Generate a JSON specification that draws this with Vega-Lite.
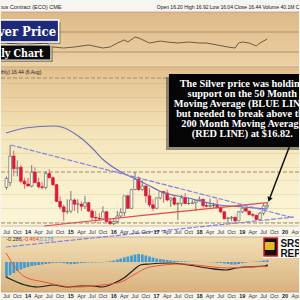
{
"$schema":"https://vega.github.io/schema/vega-lite/v6.json",
"width":300,"height":300,
"autosize":{"type":"fit","contains":"padding"},
"padding":0,
"background":"#f7f5f0",
"config":{"view":{"stroke":null,"fill":{"gradient":"linear","x1":0,"y1":0,"x2":0,"y2":1,"stops":[
{"offset":0,"color":"#f7f5f0"},{"offset":0.04,"color":"#f7f5f0"},
{"offset":0.04,"color":"#deb988"},{"offset":0.2233,"color":"#ecd2a4"},
{"offset":0.2233,"color":"#e3c08d"},{"offset":0.45,"color":"#f4e5ba"},{"offset":0.6,"color":"#f9efcb"},{"offset":0.7533,"color":"#fbf5d8"},
{"offset":0.7533,"color":"#f9f6ec"},{"offset":0.79,"color":"#f9f6ec"},
{"offset":0.79,"color":"#f2dfb4"},{"offset":0.9733,"color":"#d9b27f"},
{"offset":0.9733,"color":"#f7f4ee"},{"offset":1,"color":"#f7f4ee"}]}}},
"datasets":{
"candles":[
{"date":"2013-07-01","open":19.0,"high":20.6,"low":18.7,"close":20.3},
{"date":"2013-08-01","open":19.7,"high":25.1,"low":19.2,"close":23.5},
{"date":"2013-09-01","open":23.5,"high":24.3,"low":20.6,"close":21.7},
{"date":"2013-10-01","open":21.7,"high":22.9,"low":20.6,"close":21.9},
{"date":"2013-11-01","open":21.9,"high":22.2,"low":19.6,"close":19.9},
{"date":"2013-12-01","open":19.9,"high":20.4,"low":18.8,"close":19.5},
{"date":"2014-01-01","open":19.5,"high":20.4,"low":19.2,"close":19.2},
{"date":"2014-02-01","open":19.2,"high":22.2,"low":19.0,"close":21.2},
{"date":"2014-03-01","open":21.2,"high":21.9,"low":19.6,"close":19.7},
{"date":"2014-04-01","open":19.7,"high":20.4,"low":18.9,"close":19.1},
{"date":"2014-05-01","open":19.1,"high":19.8,"low":18.7,"close":19.0},
{"date":"2014-06-01","open":19.0,"high":21.3,"low":18.7,"close":21.0},
{"date":"2014-07-01","open":21.0,"high":21.6,"low":20.3,"close":20.4},
{"date":"2014-08-01","open":20.4,"high":20.6,"low":19.2,"close":19.4},
{"date":"2014-09-01","open":19.4,"high":19.5,"low":16.9,"close":17.0},
{"date":"2014-10-01","open":17.0,"high":17.7,"low":15.8,"close":16.2},
{"date":"2014-11-01","open":16.2,"high":16.5,"low":14.2,"close":15.5},
{"date":"2014-12-01","open":15.5,"high":17.3,"low":15.2,"close":15.6},
{"date":"2015-01-01","open":15.6,"high":18.5,"low":15.3,"close":17.2},
{"date":"2015-02-01","open":17.2,"high":17.4,"low":15.6,"close":16.6},
{"date":"2015-03-01","open":16.6,"high":17.3,"low":15.3,"close":16.65},
{"date":"2015-04-01","open":16.6,"high":17.0,"low":15.6,"close":16.3},
{"date":"2015-05-01","open":16.3,"high":17.8,"low":15.9,"close":16.8},
{"date":"2015-06-01","open":16.8,"high":16.9,"low":15.5,"close":15.6},
{"date":"2015-07-01","open":15.6,"high":15.9,"low":14.3,"close":14.7},
{"date":"2015-08-01","open":14.7,"high":15.6,"low":13.9,"close":14.6},
{"date":"2015-09-01","open":14.6,"high":15.3,"low":14.2,"close":14.5},
{"date":"2015-10-01","open":14.5,"high":16.3,"low":14.5,"close":15.5},
{"date":"2015-11-01","open":15.5,"high":15.6,"low":14.0,"close":14.1},
{"date":"2015-12-01","open":14.1,"high":14.5,"low":13.6,"close":13.8},
{"date":"2016-01-01","open":13.8,"high":14.5,"low":13.6,"close":14.1},
{"date":"2016-02-01","open":14.1,"high":15.6,"low":13.9,"close":14.9},
{"date":"2016-03-01","open":14.9,"high":16.0,"low":14.7,"close":15.4},
{"date":"2016-04-01","open":15.4,"high":17.8,"low":14.9,"close":17.8},
{"date":"2016-05-01","open":17.8,"high":17.9,"low":15.9,"close":16.0},
{"date":"2016-06-01","open":16.0,"high":18.8,"low":15.9,"close":18.7},
{"date":"2016-07-01","open":18.7,"high":21.2,"low":18.6,"close":20.2},
{"date":"2016-08-01","open":20.2,"high":20.6,"low":18.5,"close":18.7},
{"date":"2016-09-01","open":18.7,"high":20.0,"low":18.5,"close":19.2},
{"date":"2016-10-01","open":19.2,"high":19.3,"low":16.8,"close":17.8},
{"date":"2016-11-01","open":17.8,"high":18.9,"low":16.2,"close":16.5},
{"date":"2016-12-01","open":16.5,"high":17.3,"low":15.6,"close":16.0},
{"date":"2017-01-01","open":16.0,"high":17.5,"low":15.9,"close":17.5},
{"date":"2017-02-01","open":17.5,"high":18.5,"low":17.3,"close":18.4},
{"date":"2017-03-01","open":18.4,"high":18.5,"low":16.8,"close":18.2},
{"date":"2017-04-01","open":18.2,"high":18.7,"low":17.0,"close":17.2},
{"date":"2017-05-01","open":17.2,"high":17.6,"low":16.2,"close":17.5},
{"date":"2017-06-01","open":17.5,"high":17.8,"low":16.4,"close":16.6},
{"date":"2017-07-01","open":16.6,"high":16.9,"low":14.3,"close":16.7},
{"date":"2017-08-01","open":16.7,"high":17.9,"low":16.3,"close":17.5},
{"date":"2017-09-01","open":17.5,"high":18.2,"low":16.6,"close":16.7},
{"date":"2017-10-01","open":16.7,"high":17.5,"low":16.5,"close":16.7},
{"date":"2017-11-01","open":16.7,"high":17.3,"low":16.6,"close":16.8},
{"date":"2017-12-01","open":16.8,"high":17.2,"low":15.6,"close":17.1},
{"date":"2018-01-01","open":17.1,"high":17.7,"low":17.0,"close":17.3},
{"date":"2018-02-01","open":17.3,"high":17.3,"low":16.1,"close":16.4},
{"date":"2018-03-01","open":16.4,"high":16.9,"low":16.1,"close":16.3},
{"date":"2018-04-01","open":16.3,"high":17.4,"low":16.1,"close":16.4},
{"date":"2018-05-01","open":16.4,"high":16.8,"low":16.1,"close":16.4},
{"date":"2018-06-01","open":16.4,"high":17.3,"low":16.0,"close":16.1},
{"date":"2018-07-01","open":16.1,"high":16.3,"low":15.3,"close":15.5},
{"date":"2018-08-01","open":15.5,"high":15.6,"low":14.4,"close":14.5},
{"date":"2018-09-01","open":14.5,"high":14.8,"low":13.9,"close":14.6},
{"date":"2018-10-01","open":14.6,"high":14.9,"low":14.2,"close":14.7},
{"date":"2018-11-01","open":14.7,"high":14.8,"low":13.9,"close":14.2},
{"date":"2018-12-01","open":14.2,"high":15.6,"low":14.2,"close":15.5},
{"date":"2019-01-01","open":15.5,"high":16.2,"low":15.3,"close":16.0},
{"date":"2019-02-01","open":16.0,"high":16.2,"low":15.6,"close":15.6},
{"date":"2019-03-01","open":15.6,"high":15.6,"low":15.0,"close":15.1},
{"date":"2019-04-01","open":15.1,"high":15.3,"low":14.7,"close":15.0},
{"date":"2019-05-01","open":15.0,"high":15.0,"low":14.3,"close":14.4},
{"date":"2019-06-01","open":14.4,"high":15.5,"low":14.4,"close":15.3},
{"date":"2019-07-01","open":15.3,"high":16.7,"low":15.0,"close":16.35},
{"date":"2019-08-01","open":16.2,"high":16.92,"low":16.04,"close":16.44}],
"ma50":[
{"date":"2013-06-27","price":26.82},{"date":"2013-12-07","price":27.54},{"date":"2014-08-08","price":27.83},
{"date":"2014-10-13","price":27.69},{"date":"2015-03-16","price":26.25},{"date":"2015-07-01","price":24.67},
{"date":"2015-10-07","price":22.94},{"date":"2016-03-03","price":21.22},{"date":"2016-06-18","price":20.36},
{"date":"2016-11-04","price":19.21},{"date":"2017-01-25","price":18.5},{"date":"2017-09-28","price":17.48},
{"date":"2018-06-24","price":16.48},{"date":"2019-01-07","price":16.19},{"date":"2019-08-07","price":15.9}],
"ma200":[{"date":"2014-05-18","price":13.46},{"date":"2016-11-05","price":15.1},{"date":"2019-08-07","price":16.82}],
"trendUpper":[{"date":"2013-08-06","price":25.1},{"date":"2020-03-17","price":14.61}],
"trendLower":[{"date":"2013-06-27","price":10.44},{"date":"2020-03-17","price":14.75}],
"levels":[{"price":34.73},{"price":21.22},{"price":13.89}],
"rsi":[
{"date":"2013-07-01","value":48},{"date":"2013-12-01","value":44},{"date":"2014-06-01","value":48},
{"date":"2014-08-01","value":40},{"date":"2014-11-01","value":38},{"date":"2015-02-01","value":40},
{"date":"2015-06-01","value":44},{"date":"2015-10-01","value":38},{"date":"2015-12-01","value":40},
{"date":"2016-02-01","value":48},{"date":"2016-04-01","value":54},{"date":"2016-05-01","value":50},
{"date":"2016-07-01","value":60},{"date":"2016-08-01","value":58},{"date":"2016-11-01","value":48},
{"date":"2017-02-01","value":52},{"date":"2017-04-01","value":50},{"date":"2017-07-01","value":48},
{"date":"2017-10-01","value":50},{"date":"2018-01-01","value":48},{"date":"2018-03-01","value":48},
{"date":"2018-06-01","value":44},{"date":"2018-09-01","value":40},{"date":"2018-11-01","value":38},
{"date":"2018-12-01","value":48},{"date":"2019-01-01","value":50},{"date":"2019-03-01","value":48},
{"date":"2019-05-01","value":42},{"date":"2019-06-01","value":48},{"date":"2019-08-01","value":56}],
"hist":[
{"date":"2013-07-01","hist":-1.5},{"date":"2013-08-01","hist":-1.3},{"date":"2013-09-01","hist":-1.1},{"date":"2013-10-01","hist":-0.9},
{"date":"2013-11-01","hist":-0.75},{"date":"2013-12-01","hist":-0.6},{"date":"2014-01-01","hist":-0.5},{"date":"2014-02-01","hist":-0.4},
{"date":"2014-03-01","hist":-0.35},{"date":"2014-04-01","hist":-0.3},{"date":"2014-05-01","hist":-0.25},{"date":"2014-06-01","hist":-0.2},
{"date":"2014-07-01","hist":-0.15},{"date":"2014-08-01","hist":-0.1},{"date":"2014-09-01","hist":-0.07},{"date":"2014-10-01","hist":-0.08},
{"date":"2014-11-01","hist":-0.12},{"date":"2014-12-01","hist":-0.18},{"date":"2015-01-01","hist":-0.22},{"date":"2015-02-01","hist":-0.2},
{"date":"2015-03-01","hist":-0.15},{"date":"2015-04-01","hist":-0.1},{"date":"2015-05-01","hist":-0.08},{"date":"2015-06-01","hist":-0.05},
{"date":"2015-07-01","hist":-0.05},{"date":"2015-08-01","hist":-0.04},{"date":"2015-09-01","hist":-0.03},{"date":"2015-10-01","hist":-0.03},
{"date":"2015-11-01","hist":0.03},{"date":"2015-12-01","hist":0.08},{"date":"2016-01-01","hist":0.15},{"date":"2016-02-01","hist":0.25},
{"date":"2016-03-01","hist":0.35},{"date":"2016-04-01","hist":0.45},{"date":"2016-05-01","hist":0.55},{"date":"2016-06-01","hist":0.65},
{"date":"2016-07-01","hist":0.75},{"date":"2016-08-01","hist":0.8},{"date":"2016-09-01","hist":0.75},{"date":"2016-10-01","hist":0.65},
{"date":"2016-11-01","hist":0.55},{"date":"2016-12-01","hist":0.45},{"date":"2017-01-01","hist":0.35},{"date":"2017-02-01","hist":0.3},
{"date":"2017-03-01","hist":0.25},{"date":"2017-04-01","hist":0.2},{"date":"2017-05-01","hist":0.15},{"date":"2017-06-01","hist":0.12},
{"date":"2017-07-01","hist":0.1},{"date":"2017-08-01","hist":0.08},{"date":"2017-09-01","hist":0.06},{"date":"2017-10-01","hist":0.04},
{"date":"2017-11-01","hist":0.03},{"date":"2017-12-01","hist":0.02},{"date":"2018-01-01","hist":0.02},{"date":"2018-02-01","hist":0.01},
{"date":"2018-03-01","hist":0},{"date":"2018-04-01","hist":-0.02},{"date":"2018-05-01","hist":-0.04},{"date":"2018-06-01","hist":-0.07},
{"date":"2018-07-01","hist":-0.1},{"date":"2018-08-01","hist":-0.15},{"date":"2018-09-01","hist":-0.2},{"date":"2018-10-01","hist":-0.25},
{"date":"2018-11-01","hist":-0.25},{"date":"2018-12-01","hist":-0.2},{"date":"2019-01-01","hist":-0.12},{"date":"2019-02-01","hist":-0.06},
{"date":"2019-03-01","hist":0},{"date":"2019-04-01","hist":0.03},{"date":"2019-05-01","hist":0.04},{"date":"2019-06-01","hist":0.08},
{"date":"2019-07-01","hist":0.15},{"date":"2019-08-01","hist":0.18}],
"macd":[
{"date":"2013-06-27","value":-1.5},{"date":"2013-12-07","value":-2.3},{"date":"2014-03-22","value":-2.5},{"date":"2014-08-09","value":-2.3},
{"date":"2014-11-24","value":-2.5},{"date":"2015-03-17","value":-2.4},{"date":"2015-07-01","value":-2.4},{"date":"2015-09-22","value":-2.5},
{"date":"2016-01-07","value":-2.1},{"date":"2016-03-28","value":-1.6},{"date":"2016-06-18","value":-0.8},{"date":"2016-08-15","value":-0.3},
{"date":"2016-11-05","value":-0.2},{"date":"2017-04-16","value":-0.1},{"date":"2017-09-28","value":-0.3},{"date":"2018-03-09","value":-0.6},
{"date":"2018-08-20","value":-0.8},{"date":"2018-11-10","value":-0.6},{"date":"2019-02-01","value":-0.5},{"date":"2019-07-13","value":-0.4},
{"date":"2019-08-07","value":-0.29}],
"signal":[
{"date":"2013-06-27","value":0.9},{"date":"2013-12-07","value":-1.5},{"date":"2014-05-18","value":-2.0},{"date":"2014-10-30","value":-2.4},
{"date":"2015-02-14","value":-2.5},{"date":"2015-09-22","value":-2.3},{"date":"2016-03-03","value":-2.0},{"date":"2016-06-18","value":-1.3},
{"date":"2016-11-05","value":-0.5},{"date":"2017-08-01","value":-0.2},{"date":"2018-05-05","value":-0.5},{"date":"2018-08-20","value":-0.6},
{"date":"2019-02-01","value":-0.5},{"date":"2019-08-07","value":-0.46}],
"xlabels":[
{"date":"2013-07-01","label":"Jul"},{"date":"2013-10-01","label":"Oct"},{"date":"2014-01-01","label":"14"},{"date":"2014-04-01","label":"Apr"},
{"date":"2014-07-01","label":"Jul"},{"date":"2014-10-01","label":"Oct"},{"date":"2015-01-01","label":"15"},{"date":"2015-04-01","label":"Apr"},
{"date":"2015-07-01","label":"Jul"},{"date":"2015-10-01","label":"Oct"},{"date":"2016-01-01","label":"16"},{"date":"2016-04-01","label":"Apr"},
{"date":"2016-07-01","label":"Jul"},{"date":"2016-10-01","label":"Oct"},{"date":"2017-01-01","label":"17"},{"date":"2017-04-01","label":"Apr"},
{"date":"2017-07-01","label":"Jul"},{"date":"2017-10-01","label":"Oct"},{"date":"2018-01-01","label":"18"},{"date":"2018-04-01","label":"Apr"},
{"date":"2018-07-01","label":"Jul"},{"date":"2018-10-01","label":"Oct"},{"date":"2019-01-01","label":"19"},{"date":"2019-04-01","label":"Apr"},
{"date":"2019-07-01","label":"Jul"},{"date":"2019-10-01","label":"Oct"},{"date":"2020-01-01","label":"20"},{"date":"2020-04-01","label":"Apr"}]
},
"resolve":{"scale":{"y":"independent"}},
"layer":[
{"data":{"values":[{"level":70},{"level":30}]},"mark":{"type":"rule","color":"#9e8566","strokeWidth":0.8},
 "encoding":{"y":{"field":"level","type":"quantitative","scale":{"domain":[0,110],"range":[67,12],"nice":false,"zero":false},"axis":null}}},
{"data":{"values":[{"level":110},{"level":0}]},"mark":{"type":"rule","color":"#b39a76","strokeWidth":0.7},
 "encoding":{"y":{"field":"level","type":"quantitative","scale":{"domain":[0,110],"range":[67,12],"nice":false,"zero":false},"axis":null}}},
{"data":{"values":[{"level":13.46}]},"mark":{"type":"rule","color":"#c2ab88","strokeWidth":0.7},
 "encoding":{"y":{"field":"level","type":"quantitative","scale":{"domain":[13.46,36.31],"range":[226,67],"nice":false,"zero":false},"axis":null}}},
{"data":{"values":[{"level":2.5},{"level":-3}]},"mark":{"type":"rule","color":"#b39a76","strokeWidth":0.7},
 "encoding":{"y":{"field":"level","type":"quantitative","scale":{"domain":[-3,2.5],"range":[292,237],"nice":false,"zero":false},"axis":null}}},
{"data":{"name":"levels"},"mark":{"type":"rule","color":"#9a8b72","strokeWidth":1.1,"strokeDash":[4,2]},
 "encoding":{"y":{"field":"price","type":"quantitative","scale":{"domain":[13.46,36.31],"range":[226,67],"nice":false,"zero":false},"axis":null}}},
{"data":{"name":"candles"},"mark":{"type":"rule","strokeWidth":0.8,"clip":true},
 "encoding":{
  "x":{"field":"date","type":"temporal","scale":{"type":"utc","domain":[{"year":2013,"month":6,"date":27,"utc":true},{"year":2020,"month":3,"date":17,"utc":true}]},
       "axis":{"grid":true,"labels":false,"ticks":false,"domain":false,"title":null,"tickCount":{"interval":"month","step":3},"gridColor":"#a98350","gridOpacity":0.25,"gridWidth":0.6}},
  "y":{"field":"low","type":"quantitative","scale":{"domain":[13.46,36.31],"range":[226,67],"nice":false,"zero":false},
       "axis":{"grid":true,"labels":false,"ticks":false,"domain":false,"title":null,"values":[14,16,18,20,22,24,26,28,30,32,34,36],"gridColor":"#a98350","gridOpacity":0.25,"gridWidth":0.6}},
  "y2":{"field":"high"},
  "color":{"condition":{"test":"datum.close >= datum.open","value":"#5a5a5a"},"value":"#e8405a"}}},
{"data":{"name":"candles"},"mark":{"type":"bar","width":2.7,"strokeWidth":0.6,"clip":true},
 "encoding":{
  "x":{"field":"date","type":"temporal","scale":{"type":"utc","domain":[{"year":2013,"month":6,"date":27,"utc":true},{"year":2020,"month":3,"date":17,"utc":true}]},"axis":null},
  "y":{"field":"open","type":"quantitative","scale":{"domain":[13.46,36.31],"range":[226,67],"nice":false,"zero":false},"axis":null},
  "y2":{"field":"close"},
  "fill":{"condition":{"test":"datum.close >= datum.open","value":"#fbf7e6"},"value":"#e3173a"},
  "stroke":{"condition":{"test":"datum.close >= datum.open","value":"#555555"},"value":"#c8102e"}}},
{"data":{"name":"ma50"},"mark":{"type":"line","color":"#6f6fc2","strokeWidth":1.2,"interpolate":"monotone","clip":true},
 "encoding":{
  "x":{"field":"date","type":"temporal","scale":{"type":"utc","domain":[{"year":2013,"month":6,"date":27,"utc":true},{"year":2020,"month":3,"date":17,"utc":true}]},"axis":null},
  "y":{"field":"price","type":"quantitative","scale":{"domain":[13.46,36.31],"range":[226,67],"nice":false,"zero":false},"axis":null}}},
{"data":{"name":"ma200"},"mark":{"type":"line","color":"#e34b4b","strokeWidth":1.2,"interpolate":"monotone","clip":true},
 "encoding":{
  "x":{"field":"date","type":"temporal","scale":{"type":"utc","domain":[{"year":2013,"month":6,"date":27,"utc":true},{"year":2020,"month":3,"date":17,"utc":true}]},"axis":null},
  "y":{"field":"price","type":"quantitative","scale":{"domain":[13.46,36.31],"range":[226,67],"nice":false,"zero":false},"axis":null}}},
{"data":{"name":"trendUpper"},"mark":{"type":"line","color":"#8383e6","strokeWidth":1.2,"strokeDash":[5,1.5],"clip":true},
 "encoding":{
  "x":{"field":"date","type":"temporal","scale":{"type":"utc","domain":[{"year":2013,"month":6,"date":27,"utc":true},{"year":2020,"month":3,"date":17,"utc":true}]},"axis":null},
  "y":{"field":"price","type":"quantitative","scale":{"domain":[13.46,36.31],"range":[226,67],"nice":false,"zero":false},"axis":null}}},
{"data":{"name":"trendLower"},"mark":{"type":"line","color":"#8383e6","strokeWidth":1.2,"strokeDash":[5,1.5],"clip":true},
 "encoding":{
  "x":{"field":"date","type":"temporal","scale":{"type":"utc","domain":[{"year":2013,"month":6,"date":27,"utc":true},{"year":2020,"month":3,"date":17,"utc":true}]},"axis":null},
  "y":{"field":"price","type":"quantitative","scale":{"domain":[13.46,36.31],"range":[226,67],"nice":false,"zero":false},"axis":null}}},
{"data":{"name":"rsi"},"mark":{"type":"line","color":"#5f4e3c","strokeWidth":0.9,"clip":true},
 "encoding":{
  "x":{"field":"date","type":"temporal","scale":{"type":"utc","domain":[{"year":2013,"month":6,"date":27,"utc":true},{"year":2020,"month":3,"date":17,"utc":true}]},"axis":null},
  "y":{"field":"value","type":"quantitative","scale":{"domain":[0,110],"range":[67,12],"nice":false,"zero":false},"axis":null}}},
{"data":{"name":"hist"},"mark":{"type":"bar","width":2.7,"color":"#3f9bd3","clip":true},
 "encoding":{
  "x":{"field":"date","type":"temporal","scale":{"type":"utc","domain":[{"year":2013,"month":6,"date":27,"utc":true},{"year":2020,"month":3,"date":17,"utc":true}]},"axis":null},
  "y":{"field":"hist","type":"quantitative","scale":{"domain":[-3,2.5],"range":[292,237],"nice":false,"zero":false},"axis":null},
  "y2":{"datum":0}}},
{"data":{"name":"macd"},"mark":{"type":"line","color":"#1e1e1e","strokeWidth":1.2,"interpolate":"monotone","clip":true},
 "encoding":{
  "x":{"field":"date","type":"temporal","scale":{"type":"utc","domain":[{"year":2013,"month":6,"date":27,"utc":true},{"year":2020,"month":3,"date":17,"utc":true}]},"axis":null},
  "y":{"field":"value","type":"quantitative","scale":{"domain":[-3,2.5],"range":[292,237],"nice":false,"zero":false},"axis":null}}},
{"data":{"name":"signal"},"mark":{"type":"line","color":"#e8553a","strokeWidth":1,"interpolate":"monotone","clip":true},
 "encoding":{
  "x":{"field":"date","type":"temporal","scale":{"type":"utc","domain":[{"year":2013,"month":6,"date":27,"utc":true},{"year":2020,"month":3,"date":17,"utc":true}]},"axis":null},
  "y":{"field":"value","type":"quantitative","scale":{"domain":[-3,2.5],"range":[292,237],"nice":false,"zero":false},"axis":null}}},
{"data":{"name":"xlabels"},"transform":[{"filter":"length(datum.label) != 2"}],
 "mark":{"type":"text","font":"Liberation Sans","fontSize":5.5,"color":"#333333","align":"center","baseline":"middle","clip":true},
 "encoding":{
  "x":{"field":"date","type":"temporal","scale":{"type":"utc","domain":[{"year":2013,"month":6,"date":27,"utc":true},{"year":2020,"month":3,"date":17,"utc":true}]},"axis":null},
  "y":{"datum":12.6,"type":"quantitative","scale":{"domain":[13.46,36.31],"range":[226,67],"nice":false,"zero":false},"axis":null},
  "text":{"field":"label"}}},
{"data":{"name":"xlabels"},"transform":[{"filter":"length(datum.label) == 2"}],
 "mark":{"type":"text","font":"Liberation Sans","fontSize":5.5,"fontWeight":"bold","color":"#222222","align":"center","baseline":"middle","clip":true},
 "encoding":{
  "x":{"field":"date","type":"temporal","scale":{"type":"utc","domain":[{"year":2013,"month":6,"date":27,"utc":true},{"year":2020,"month":3,"date":17,"utc":true}]},"axis":null},
  "y":{"datum":12.6,"type":"quantitative","scale":{"domain":[13.46,36.31],"range":[226,67],"nice":false,"zero":false},"axis":null},
  "text":{"field":"label"}}},
{"data":{"name":"xlabels"},"transform":[{"filter":"length(datum.label) != 2"}],
 "mark":{"type":"text","font":"Liberation Sans","fontSize":5.5,"color":"#333333","align":"center","baseline":"middle","clip":true},
 "encoding":{
  "x":{"field":"date","type":"temporal","scale":{"type":"utc","domain":[{"year":2013,"month":6,"date":27,"utc":true},{"year":2020,"month":3,"date":17,"utc":true}]},"axis":null},
  "y":{"datum":-3.4,"type":"quantitative","scale":{"domain":[-3,2.5],"range":[292,237],"nice":false,"zero":false},"axis":null},
  "text":{"field":"label"}}},
{"data":{"name":"xlabels"},"transform":[{"filter":"length(datum.label) == 2"}],
 "mark":{"type":"text","font":"Liberation Sans","fontSize":5.5,"fontWeight":"bold","color":"#222222","align":"center","baseline":"middle","clip":true},
 "encoding":{
  "x":{"field":"date","type":"temporal","scale":{"type":"utc","domain":[{"year":2013,"month":6,"date":27,"utc":true},{"year":2020,"month":3,"date":17,"utc":true}]},"axis":null},
  "y":{"datum":-3.4,"type":"quantitative","scale":{"domain":[-3,2.5],"range":[292,237],"nice":false,"zero":false},"axis":null},
  "text":{"field":"label"}}},
{"data":{"values":[{"text":"Silver - Continuous Contract (ECO) CME"}]},
 "mark":{"type":"text","font":"Liberation Sans","fontSize":5.5,"color":"#222222","align":"right","baseline":"middle","clip":true},
 "encoding":{
  "x":{"datum":{"year":2014,"month":10,"date":13,"utc":true},"type":"temporal","scale":{"type":"utc","domain":[{"year":2013,"month":6,"date":27,"utc":true},{"year":2020,"month":3,"date":17,"utc":true}]},"axis":null},
  "y":{"datum":120,"type":"quantitative","scale":{"domain":[0,110],"range":[67,12],"nice":false,"zero":false},"axis":null},
  "text":{"field":"text"}}},
{"data":{"values":[{"text":"Open 16.20  High 16.92  Low 16.04  Close 16.44  Volume 40.1M  Chg 0.09 (+0.55%)"}]},
 "mark":{"type":"text","font":"Liberation Sans","fontSize":5,"color":"#111111","align":"left","baseline":"middle","clip":true},
 "encoding":{
  "x":{"datum":{"year":2017,"month":1,"date":2,"utc":true},"type":"temporal","scale":{"type":"utc","domain":[{"year":2013,"month":6,"date":27,"utc":true},{"year":2020,"month":3,"date":17,"utc":true}]},"axis":null},
  "y":{"datum":120,"type":"quantitative","scale":{"domain":[0,110],"range":[67,12],"nice":false,"zero":false},"axis":null},
  "text":{"field":"text"}}},
{"data":{"values":[{"text":"Silver (Monthly) 16.44 (6 Aug)"}]},
 "mark":{"type":"text","font":"Liberation Sans","fontSize":5,"color":"#222222","align":"right","baseline":"middle","clip":true},
 "encoding":{
  "x":{"datum":{"year":2014,"month":4,"date":24,"utc":true},"type":"temporal","scale":{"type":"utc","domain":[{"year":2013,"month":6,"date":27,"utc":true},{"year":2020,"month":3,"date":17,"utc":true}]},"axis":null},
  "y":{"datum":35.59,"type":"quantitative","scale":{"domain":[13.46,36.31],"range":[226,67],"nice":false,"zero":false},"axis":null},
  "text":{"field":"text"}}},
{"data":{"values":[{}]},"mark":{"type":"rect","color":"#000000","opacity":0.35,"clip":true},
 "encoding":{
  "x":{"datum":{"year":2012,"month":6,"date":1,"utc":true},"type":"temporal","scale":{"type":"utc","domain":[{"year":2013,"month":6,"date":27,"utc":true},{"year":2020,"month":3,"date":17,"utc":true}]},"axis":null},
  "x2":{"datum":{"year":2014,"month":10,"date":5,"utc":true}},
  "y":{"datum":90,"type":"quantitative","scale":{"domain":[0,110],"range":[67,12],"nice":false,"zero":false},"axis":null},
  "y2":{"datum":46}}},
{"data":{"values":[{}]},"mark":{"type":"rect","color":"#1d2a7c","stroke":"#ffffff","strokeWidth":1.5,"clip":true},
 "encoding":{
  "x":{"datum":{"year":2012,"month":6,"date":1,"utc":true},"type":"temporal","scale":{"type":"utc","domain":[{"year":2013,"month":6,"date":27,"utc":true},{"year":2020,"month":3,"date":17,"utc":true}]},"axis":null},
  "x2":{"datum":{"year":2014,"month":9,"date":19,"utc":true}},
  "y":{"datum":94,"type":"quantitative","scale":{"domain":[0,110],"range":[67,12],"nice":false,"zero":false},"axis":null},
  "y2":{"datum":50}}},
{"data":{"values":[{"text":"Silver Price"}]},
 "mark":{"type":"text","font":"DejaVu Serif Condensed","fontSize":13,"fontWeight":"bold","color":"#ffffff","align":"right","baseline":"alphabetic","clip":true},
 "encoding":{
  "x":{"datum":{"year":2014,"month":8,"date":28,"utc":true},"type":"temporal","scale":{"type":"utc","domain":[{"year":2013,"month":6,"date":27,"utc":true},{"year":2020,"month":3,"date":17,"utc":true}]},"axis":null},
  "y":{"datum":61.5,"type":"quantitative","scale":{"domain":[0,110],"range":[67,12],"nice":false,"zero":false},"axis":null},
  "text":{"field":"text"}}},
{"data":{"values":[{}]},"mark":{"type":"rect","color":"#000000","opacity":0.35,"clip":true},
 "encoding":{
  "x":{"datum":{"year":2012,"month":6,"date":1,"utc":true},"type":"temporal","scale":{"type":"utc","domain":[{"year":2013,"month":6,"date":27,"utc":true},{"year":2020,"month":3,"date":17,"utc":true}]},"axis":null},
  "x2":{"datum":{"year":2014,"month":7,"date":31,"utc":true}},
  "y":{"datum":40,"type":"quantitative","scale":{"domain":[0,110],"range":[67,12],"nice":false,"zero":false},"axis":null},
  "y2":{"datum":10}}},
{"data":{"values":[{}]},"mark":{"type":"rect","color":"#0a0a0a","stroke":"#eeeeee","strokeWidth":1,"clip":true},
 "encoding":{
  "x":{"datum":{"year":2012,"month":6,"date":1,"utc":true},"type":"temporal","scale":{"type":"utc","domain":[{"year":2013,"month":6,"date":27,"utc":true},{"year":2020,"month":3,"date":17,"utc":true}]},"axis":null},
  "x2":{"datum":{"year":2014,"month":7,"date":14,"utc":true}},
  "y":{"datum":44,"type":"quantitative","scale":{"domain":[0,110],"range":[67,12],"nice":false,"zero":false},"axis":null},
  "y2":{"datum":14}}},
{"data":{"values":[{"text":"Monthly Chart"}]},
 "mark":{"type":"text","font":"DejaVu Serif Condensed","fontSize":10.5,"fontWeight":"bold","color":"#ffffff","align":"right","baseline":"alphabetic","clip":true},
 "encoding":{
  "x":{"datum":{"year":2014,"month":5,"date":12,"utc":true},"type":"temporal","scale":{"type":"utc","domain":[{"year":2013,"month":6,"date":27,"utc":true},{"year":2020,"month":3,"date":17,"utc":true}]},"axis":null},
  "y":{"datum":21,"type":"quantitative","scale":{"domain":[0,110],"range":[67,12],"nice":false,"zero":false},"axis":null},
  "text":{"field":"text"}}},
{"data":{"values":[{}]},"mark":{"type":"rect","color":"#333333","opacity":0.5,"clip":true},
 "encoding":{
  "x":{"datum":{"year":2017,"month":3,"date":22,"utc":true},"type":"temporal","scale":{"type":"utc","domain":[{"year":2013,"month":6,"date":27,"utc":true},{"year":2020,"month":3,"date":17,"utc":true}]},"axis":null},
  "x2":{"datum":{"year":2020,"month":6,"date":1,"utc":true}},
  "y":{"datum":34.87,"type":"quantitative","scale":{"domain":[13.46,36.31],"range":[226,67],"nice":false,"zero":false},"axis":null},
  "y2":{"datum":24.38}}},
{"data":{"values":[{}]},"mark":{"type":"rect","color":"#050505","clip":true},
 "encoding":{
  "x":{"datum":{"year":2017,"month":4,"date":16,"utc":true},"type":"temporal","scale":{"type":"utc","domain":[{"year":2013,"month":6,"date":27,"utc":true},{"year":2020,"month":3,"date":17,"utc":true}]},"axis":null},
  "x2":{"datum":{"year":2020,"month":6,"date":1,"utc":true}},
  "y":{"datum":35.3,"type":"quantitative","scale":{"domain":[13.46,36.31],"range":[226,67],"nice":false,"zero":false},"axis":null},
  "y2":{"datum":24.81}}},
{"data":{"values":[{"text":"The Silver price was holding\nsupport on the 50 Month\nMoving Average (BLUE LINE)\nbut needed to break above the\n200 Month Moving Average\n(RED LINE) at $16.82."}]},
 "mark":{"type":"text","font":"Liberation Serif","fontSize":10.3,"fontWeight":"bold","color":"#ffffff","align":"center","baseline":"middle","lineBreak":"\n","lineHeight":9.9,"clip":true},
 "encoding":{
  "x":{"datum":{"year":2019,"month":1,"date":1,"utc":true},"type":"temporal","scale":{"type":"utc","domain":[{"year":2013,"month":6,"date":27,"utc":true},{"year":2020,"month":3,"date":17,"utc":true}]},"axis":null},
  "y":{"datum":33.86,"type":"quantitative","scale":{"domain":[13.46,36.31],"range":[226,67],"nice":false,"zero":false},"axis":null},
  "text":{"field":"text"}}},
{"data":{"values":[{}]},"mark":{"type":"rule","color":"#111111","strokeWidth":1.5,"strokeCap":"round","clip":true},
 "encoding":{
  "x":{"datum":{"year":2020,"month":2,"date":4,"utc":true},"type":"temporal","scale":{"type":"utc","domain":[{"year":2013,"month":6,"date":27,"utc":true},{"year":2020,"month":3,"date":17,"utc":true}]},"axis":null},
  "x2":{"datum":{"year":2019,"month":8,"date":27,"utc":true}},
  "y":{"datum":24.74,"type":"quantitative","scale":{"domain":[13.46,36.31],"range":[226,67],"nice":false,"zero":false},"axis":null},
  "y2":{"datum":17.63}}},
{"data":{"values":[{}]},"mark":{"type":"point","shape":"triangle-down","filled":true,"color":"#111111","size":30,"angle":21,"opacity":1,"clip":true},
 "encoding":{
  "x":{"datum":{"year":2019,"month":8,"date":19,"utc":true},"type":"temporal","scale":{"type":"utc","domain":[{"year":2013,"month":6,"date":27,"utc":true},{"year":2020,"month":3,"date":17,"utc":true}]},"axis":null},
  "y":{"datum":17.27,"type":"quantitative","scale":{"domain":[13.46,36.31],"range":[226,67],"nice":false,"zero":false},"axis":null}}},
{"data":{"values":[{}]},"mark":{"type":"rect","color":"#ffffff","clip":true},
 "encoding":{
  "x":{"datum":{"year":2019,"month":6,"date":27,"utc":true},"type":"temporal","scale":{"type":"utc","domain":[{"year":2013,"month":6,"date":27,"utc":true},{"year":2020,"month":3,"date":17,"utc":true}]},"axis":null},
  "x2":{"datum":{"year":2020,"month":6,"date":1,"utc":true}},
  "y":{"datum":2.5,"type":"quantitative","scale":{"domain":[-3,2.5],"range":[292,237],"nice":false,"zero":false},"axis":null},
  "y2":{"datum":0.4}}},
{"data":{"values":[{}]},"mark":{"type":"rect","color":"#111111","stroke":"#d41f1f","strokeWidth":1.5,"clip":true},
 "encoding":{
  "x":{"datum":{"year":2019,"month":7,"date":5,"utc":true},"type":"temporal","scale":{"type":"utc","domain":[{"year":2013,"month":6,"date":27,"utc":true},{"year":2020,"month":3,"date":17,"utc":true}]},"axis":null},
  "x2":{"datum":{"year":2019,"month":10,"date":28,"utc":true}},
  "y":{"datum":2.4,"type":"quantitative","scale":{"domain":[-3,2.5],"range":[292,237],"nice":false,"zero":false},"axis":null},
  "y2":{"datum":0.6}}},
{"data":{"values":[{}]},"mark":{"type":"rect","color":"#e5b82a","cornerRadius":1,"clip":true},
 "encoding":{
  "x":{"datum":{"year":2019,"month":7,"date":13,"utc":true},"type":"temporal","scale":{"type":"utc","domain":[{"year":2013,"month":6,"date":27,"utc":true},{"year":2020,"month":3,"date":17,"utc":true}]},"axis":null},
  "x2":{"datum":{"year":2019,"month":10,"date":4,"utc":true}},
  "y":{"datum":2.0,"type":"quantitative","scale":{"domain":[-3,2.5],"range":[292,237],"nice":false,"zero":false},"axis":null},
  "y2":{"datum":1.2}}},
{"data":{"values":[{"text":"SRSrocco"}]},
 "mark":{"type":"text","font":"Liberation Sans","fontSize":10,"fontWeight":"bold","color":"#111111","align":"left","baseline":"alphabetic","clip":true},
 "encoding":{
  "x":{"datum":{"year":2019,"month":11,"date":22,"utc":true},"type":"temporal","scale":{"type":"utc","domain":[{"year":2013,"month":6,"date":27,"utc":true},{"year":2020,"month":3,"date":17,"utc":true}]},"axis":null},
  "y":{"datum":1.55,"type":"quantitative","scale":{"domain":[-3,2.5],"range":[292,237],"nice":false,"zero":false},"axis":null},
  "text":{"field":"text"}}},
{"data":{"values":[{"text":"REPORT"}]},
 "mark":{"type":"text","font":"Liberation Sans","fontSize":10,"fontWeight":"bold","color":"#111111","align":"left","baseline":"alphabetic","clip":true},
 "encoding":{
  "x":{"datum":{"year":2019,"month":11,"date":22,"utc":true},"type":"temporal","scale":{"type":"utc","domain":[{"year":2013,"month":6,"date":27,"utc":true},{"year":2020,"month":3,"date":17,"utc":true}]},"axis":null},
  "y":{"datum":0.55,"type":"quantitative","scale":{"domain":[-3,2.5],"range":[292,237],"nice":false,"zero":false},"axis":null},
  "text":{"field":"text"}}},
{"data":{"values":[{"text":"-0.286,"}]},
 "mark":{"type":"text","font":"Liberation Sans","fontSize":5.5,"color":"#333333","align":"left","baseline":"middle","clip":true},
 "encoding":{
  "x":{"datum":{"year":2013,"month":6,"date":29,"utc":true},"type":"temporal","scale":{"type":"utc","domain":[{"year":2013,"month":6,"date":27,"utc":true},{"year":2020,"month":3,"date":17,"utc":true}]},"axis":null},
  "y":{"datum":2.35,"type":"quantitative","scale":{"domain":[-3,2.5],"range":[292,237],"nice":false,"zero":false},"axis":null},
  "text":{"field":"text"}}},
{"data":{"values":[{"text":"-0.464,"}]},
 "mark":{"type":"text","font":"Liberation Sans","fontSize":5.5,"color":"#e04030","align":"left","baseline":"middle","clip":true},
 "encoding":{
  "x":{"datum":{"year":2013,"month":11,"date":20,"utc":true},"type":"temporal","scale":{"type":"utc","domain":[{"year":2013,"month":6,"date":27,"utc":true},{"year":2020,"month":3,"date":17,"utc":true}]},"axis":null},
  "y":{"datum":2.35,"type":"quantitative","scale":{"domain":[-3,2.5],"range":[292,237],"nice":false,"zero":false},"axis":null},
  "text":{"field":"text"}}},
{"data":{"values":[{"text":"0.178"}]},
 "mark":{"type":"text","font":"Liberation Sans","fontSize":5.5,"color":"#3f9bd3","align":"left","baseline":"middle","clip":true},
 "encoding":{
  "x":{"datum":{"year":2014,"month":4,"date":8,"utc":true},"type":"temporal","scale":{"type":"utc","domain":[{"year":2013,"month":6,"date":27,"utc":true},{"year":2020,"month":3,"date":17,"utc":true}]},"axis":null},
  "y":{"datum":2.35,"type":"quantitative","scale":{"domain":[-3,2.5],"range":[292,237],"nice":false,"zero":false},"axis":null},
  "text":{"field":"text"}}}
]
}
